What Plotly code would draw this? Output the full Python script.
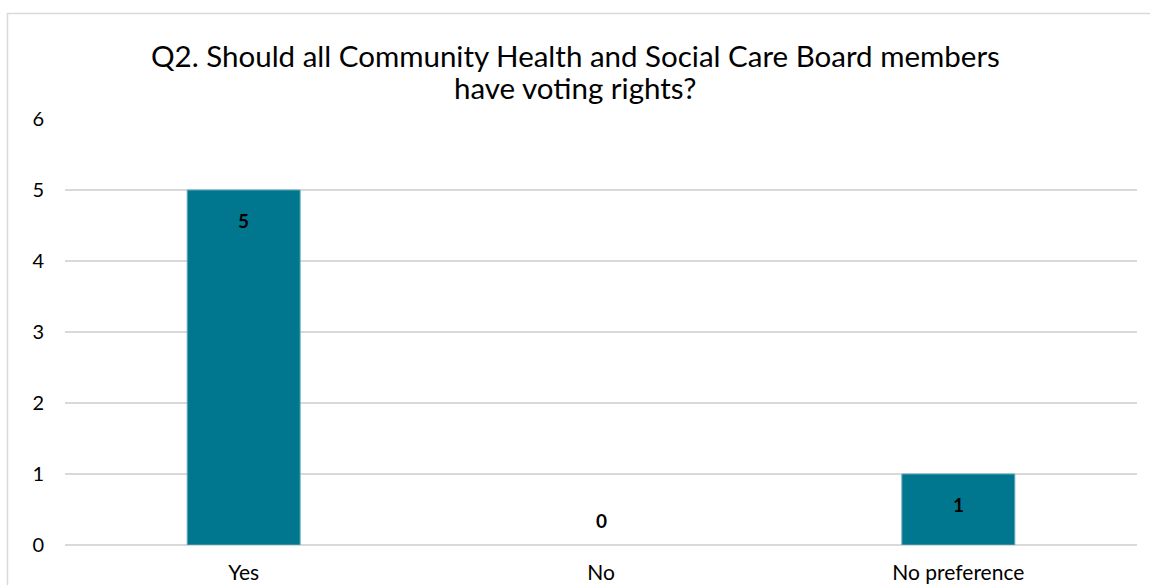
import plotly.graph_objects as go

# Survey responses
categories = ["Yes", "No", "No preference"]
counts = [5, 0, 1]
title_lines = [
    "Q2. Should all Community Health and Social Care Board members",
    "have voting rights?",
]
y_ticks = [0, 1, 2, 3, 4, 5, 6]

BAR_COLOR = "#00778F"
GRID_COLOR = "#D9D9D9"
FONT = "Lato, 'Open Sans', sans-serif"

W, H = 1150, 585
ML, MR, MT, MB = 65, 13, 119, 40
PW, PH = W - ML - MR, H - MT - MB

px_to_x = lambda px: (px - ML) / PW
px_to_y = lambda py: (H - MB - py) / PH

fig = go.Figure()
fig.add_trace(
    go.Bar(
        x=categories,
        y=counts,
        marker=dict(
            color=BAR_COLOR,
            line=dict(color="#5FA9BB", width=[1 if v > 0 else 0 for v in counts]),
        ),
        width=0.316,
        hoverinfo="x+y",
    )
)

# Value labels: inside the top of bars, above the baseline for empty bars
for cat, val in zip(categories, counts):
    fig.add_annotation(
        x=cat,
        y=val,
        text=f"<b>{val}</b>",
        showarrow=False,
        yshift=-30 if val > 0 else 25,
        font=dict(family=FONT, size=19, color="#000000"),
    )

# Two-line chart title, centred over the chart area
for line, py in zip(title_lines, [56, 87]):
    fig.add_annotation(
        xref="paper",
        yref="paper",
        x=px_to_x(W / 2),
        y=px_to_y(py),
        xanchor="center",
        yanchor="middle",
        text=line,
        showarrow=False,
        font=dict(family=FONT, size=29.5, color="#000000"),
    )

# Chart-area border (top and left edges)
fig.add_shape(
    type="path",
    xref="paper",
    yref="paper",
    path=(
        f"M {px_to_x(7.5)} {px_to_y(600)} "
        f"L {px_to_x(7.5)} {px_to_y(13.5)} "
        f"L {px_to_x(1160)} {px_to_y(13.5)}"
    ),
    line=dict(color="#D9D9D9", width=1.5),
    layer="below",
)

fig.update_layout(
    width=W,
    height=H,
    margin=dict(l=ML, r=MR, t=MT, b=MB, autoexpand=False),
    paper_bgcolor="white",
    plot_bgcolor="white",
    showlegend=False,
    bargap=0.684,
    font=dict(family=FONT, size=20, color="#000000"),
)
fig.update_xaxes(
    automargin=False,
    showgrid=False,
    showline=False,
    ticks="",
    ticklabelstandoff=13,
    tickfont=dict(family=FONT, size=21, color="#000000"),
)
fig.update_yaxes(
    automargin=False,
    range=[0, 6],
    tickvals=y_ticks,
    showgrid=True,
    gridcolor=GRID_COLOR,
    gridwidth=1.5,
    zeroline=True,
    zerolinecolor=GRID_COLOR,
    zerolinewidth=1.5,
    showline=False,
    ticks="",
    ticklabelstandoff=20,
    tickfont=dict(family=FONT, size=20, color="#000000"),
)

fig.write_html("out.html")
